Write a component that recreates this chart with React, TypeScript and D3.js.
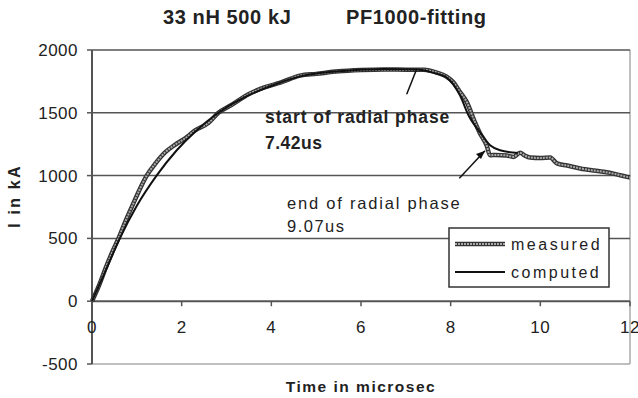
import React from "react";
import * as d3 from "d3";

const measuredT = [0, 0.15, 0.3, 0.45, 0.59, 0.75, 0.89, 1.05, 1.22, 1.4, 1.63, 1.85, 2.07, 2.3, 2.6, 2.82, 3.1, 3.5, 3.86, 4.2, 4.64, 5.0, 5.5, 6.0, 6.5, 7.0, 7.4, 7.69, 7.9, 8.06, 8.2, 8.36, 8.54, 8.65, 8.8, 8.88, 9.0, 9.25, 9.4, 9.55, 9.65, 9.77, 10.0, 10.22, 10.37, 10.6, 10.89, 11.2, 11.41, 11.7, 11.93, 12];
const measuredI = [0, 120, 260, 390, 500, 640, 753, 880, 1000, 1090, 1185, 1245, 1295, 1360, 1420, 1500, 1560, 1650, 1704, 1740, 1796, 1810, 1830, 1840, 1845, 1843, 1842, 1820, 1790, 1743, 1670, 1585, 1426, 1340, 1242, 1162, 1165, 1160, 1149, 1181, 1160, 1144, 1140, 1144, 1097, 1080, 1057, 1040, 1030, 1010, 990, 985];
const computedT = [0, 0.3, 0.62, 1.0, 1.44, 1.89, 2.3, 2.82, 3.5, 4.0, 4.64, 5.75, 6.5, 7.24, 7.6, 7.91, 8.21, 8.4, 8.65, 8.88, 9.1, 9.5];
const computedI = [0, 240, 500, 760, 1000, 1202, 1350, 1500, 1640, 1715, 1790, 1836, 1848, 1844, 1820, 1780, 1638, 1479, 1347, 1242, 1202, 1180];
const xTicks = [0, 2, 4, 6, 8, 10, 12];
const yTicks = [-500, 0, 500, 1000, 1500, 2000];

export default function App() {
  const x = d3.scaleLinear().domain([0, 12]).range([92, 630]);
  const y = d3.scaleLinear().domain([-500, 2000]).range([364, 50]);
  const line = d3.line<[number, number]>().x((d) => x(d[0])).y((d) => y(d[1])).curve(d3.curveMonotoneX);
  const mData: [number, number][] = measuredT.map((t, i) => [t, measuredI[i]]);
  const cData: [number, number][] = computedT.map((t, i) => [t, computedI[i]]);
  const font = "'Liberation Sans', Arial, sans-serif";
  return (
    <svg width={638} height={398} style={{ position: "absolute", left: 0, top: 0, background: "#fff" }} fontFamily={font}>
      <text x={163} y={24} fontSize={20} fontWeight="bold" fill="#222" letterSpacing={0.6}>33 nH 500 kJ</text>
      <text x={346} y={24} fontSize={20} fontWeight="bold" fill="#222" letterSpacing={0.6}>PF1000-fitting</text>
      {/* frame */}
      <line x1={630} x2={630} y1={50} y2={364} stroke="#aaa" strokeWidth={1.5} />
      <line x1={92} x2={630} y1={364} y2={364} stroke="#aaa" strokeWidth={1.5} />
      {yTicks.filter((v) => v > 0).map((v) => (
        <line key={v} x1={92} x2={630} y1={y(v)} y2={y(v)} stroke="#555" strokeWidth={1.5} />
      ))}
      <line x1={92} x2={630} y1={y(0)} y2={y(0)} stroke="#555" strokeWidth={2} />
      <line x1={92} x2={92} y1={50} y2={364} stroke="#555" strokeWidth={2} />
      {yTicks.map((v) => (
        <g key={v}>
          <line x1={87} x2={92} y1={y(v)} y2={y(v)} stroke="#555" strokeWidth={1.5} />
          <text x={78} y={y(v) + 6} fontSize={17} textAnchor="end" fill="#222" letterSpacing={0.5}>{v}</text>
        </g>
      ))}
      {xTicks.map((v) => (
        <g key={v}>
          <line x1={x(v)} x2={x(v)} y1={y(0)} y2={y(0) + 5} stroke="#555" strokeWidth={1.5} />
          <text x={x(v)} y={y(0) + 32} fontSize={17} textAnchor="middle" fill="#222" letterSpacing={0.5}>{v}</text>
        </g>
      ))}
      <text x={361} y={392} fontSize={15.5} fontWeight="bold" textAnchor="middle" fill="#222" letterSpacing={1.5}>Time in microsec</text>
      <text transform="translate(20,196) rotate(-90)" fontSize={16} fontWeight="bold" textAnchor="middle" fill="#222" letterSpacing={2.2}>I in kA</text>
      {/* series */}
      <path d={line(mData) || ""} fill="none" stroke="#333" strokeWidth={4.5} />
      <path d={line(mData) || ""} fill="none" stroke="#aaa" strokeWidth={2} strokeDasharray="2 1" />
      <path d={line(cData) || ""} fill="none" stroke="#111" strokeWidth={2} />
      {/* annotations */}
      <line x1={406.7} y1={94.3} x2={416.7} y2={69} stroke="#111" strokeWidth={1.5} />
      <line x1={459.3} y1={178.3} x2={485} y2={150.7} stroke="#111" strokeWidth={1.5} />
      <polygon points="485,150.7 476,154 481,159" fill="#111" />
      <text x={265} y={123} fontSize={17.5} fontWeight="bold" fill="#222" letterSpacing={0.9}>start of radial phase</text>
      <text x={265} y={149} fontSize={17.5} fontWeight="bold" fill="#222" letterSpacing={0.5}>7.42us</text>
      <text x={287} y={209} fontSize={16.5} fill="#222" letterSpacing={1.8}>end of radial phase</text>
      <text x={287} y={232} fontSize={16.5} fill="#222" letterSpacing={1.5}>9.07us</text>
      {/* legend */}
      <rect x={449} y={228} width={160} height={59} fill="#fff" stroke="#333" strokeWidth={1.5} />
      <line x1={455} x2={505} y1={244} y2={244} stroke="#333" strokeWidth={4.5} />
      <line x1={455} x2={505} y1={244} y2={244} stroke="#aaa" strokeWidth={2} strokeDasharray="2 1" />
      <line x1={455} x2={505} y1={272} y2={272} stroke="#111" strokeWidth={2} />
      <text x={511} y={250} fontSize={16} fill="#222" letterSpacing={2.5}>measured</text>
      <text x={511} y={278} fontSize={16} fill="#222" letterSpacing={2.5}>computed</text>
    </svg>
  );
}
